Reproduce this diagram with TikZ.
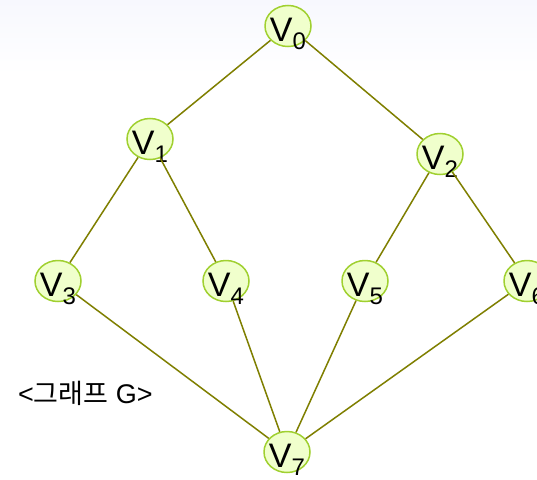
\documentclass[tikz,border=0pt]{standalone}
\usepackage{fontspec}
\setmainfont{Liberation Sans}
\newfontfamily\krfont{Noto Sans CJK KR}
\usetikzlibrary{shapes.geometric}
\definecolor{edgecol}{HTML}{7F7F00}
\definecolor{nodefill}{HTML}{F0FFCC}
\definecolor{nodedraw}{HTML}{A0D030}
\definecolor{topbg}{HTML}{F7F8FE}
\newcommand{\vlab}[1]{\smash{\makebox[0pt]{\raisebox{-15pt}{\fontsize{34}{34}\selectfont V\raisebox{-8pt}{\fontsize{24}{24}\selectfont #1}}}}}
\tikzset{
  vert/.style={ellipse, draw=nodedraw, fill=nodefill, line width=1.5pt, minimum width=46pt, minimum height=41pt, inner sep=0pt},
  edge/.style={draw=edgecol, line width=1.5pt}
}
\begin{document}
\begin{tikzpicture}[x=1pt,y=-1pt]
\useasboundingbox (0,0) rectangle (537,479);
\fill[white] (0,0) rectangle (537,479);
\shade[top color=topbg, bottom color=white] (0,0) rectangle (537,75);
\node[vert] (v0) at (288,26) {\vlab{0}};
\node[vert] (v1) at (150,139) {\vlab{1}};
\node[vert] (v2) at (440,154) {\vlab{2}};
\node[vert] (v3) at (58,281) {\vlab{3}};
\node[vert] (v4) at (226,281) {\vlab{4}};
\node[vert] (v5) at (365,281) {\vlab{5}};
\node[vert] (v6) at (527,281) {\vlab{6}};
\node[vert] (v7) at (287,452) {\vlab{7}};
\draw[edge] (v0) -- (v1);
\draw[edge] (v0) -- (v2);
\draw[edge] (v1) -- (v3);
\draw[edge] (v1) -- (v4);
\draw[edge] (v2) -- (v5);
\draw[edge] (v2) -- (v6);
\draw[edge] (v3) -- (v7);
\draw[edge] (v4) -- (v7);
\draw[edge] (v5) -- (v7);
\draw[edge] (v6) -- (v7);
\node[anchor=west, inner sep=0pt, font=\fontsize{27}{27}\selectfont] (lbl) at (18,393) {<{\krfont 그래프} G>};
\end{tikzpicture}
\end{document}
